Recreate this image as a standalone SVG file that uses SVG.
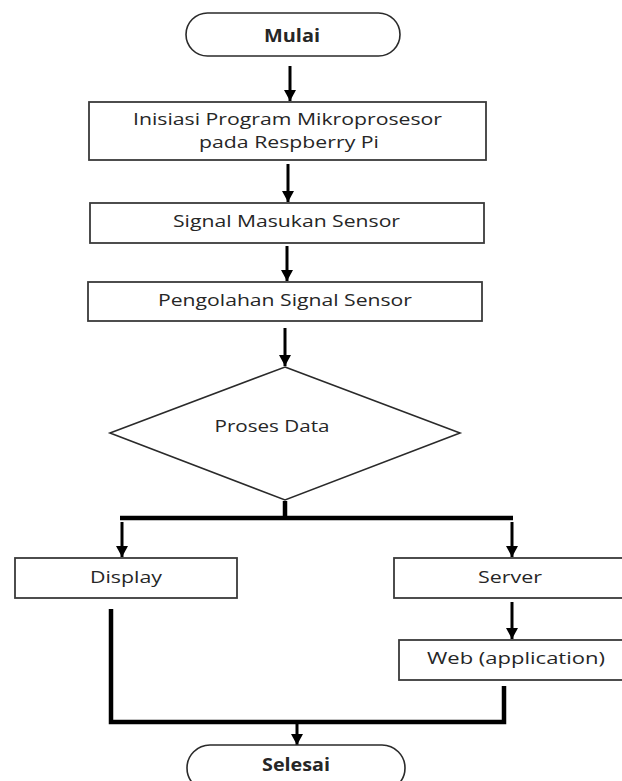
<svg xmlns="http://www.w3.org/2000/svg" width="622" height="781" viewBox="0 0 622 781">
<style>
.box{fill:#fff;stroke:#3a3a3a;stroke-width:1.8}
.term{fill:#fff;stroke:#2a2a2a;stroke-width:1.6}
.t{font-family:"Open Sans","Liberation Sans",sans-serif;font-size:17px;fill:#262626;text-anchor:middle}
.b{font-weight:bold}
.ar{stroke:#000;stroke-width:3;fill:none;marker-end:url(#ah)}
.ln{stroke:#000;stroke-width:4.5;fill:none;stroke-linecap:square}
</style>
<defs>
<marker id="ah" viewBox="0 0 11 12" refX="11" refY="6" markerWidth="11" markerHeight="12" markerUnits="userSpaceOnUse" orient="auto">
<path d="M0,0 L11,6 L0,12 z" fill="#000"/>
</marker>
</defs>
<g id="connectors">
<line class="ar" x1="290" y1="66" x2="290" y2="101"/>
<line class="ar" x1="288" y1="164" x2="288" y2="202"/>
<line class="ar" x1="287" y1="246" x2="287" y2="281"/>
<line class="ar" x1="285" y1="328" x2="285" y2="366"/>
<line class="ln" x1="285" y1="501" x2="285" y2="518" style="stroke-linecap:butt"/>
<line class="ln" x1="120" y1="518" x2="513" y2="518" style="stroke-linecap:butt"/>
<line class="ar" x1="122" y1="522" x2="122" y2="557"/>
<line class="ar" x1="512" y1="522" x2="512" y2="557"/>
<line class="ar" x1="512" y1="602" x2="512" y2="639"/>
<polyline class="ln" points="111,609 111,722 504,722 504,686" style="stroke-linecap:butt;stroke-linejoin:miter"/>
<line class="ar" x1="297" y1="724" x2="297" y2="745"/>
</g>
<g id="mulai">
<rect class="term" x="186" y="13" width="214" height="43" rx="21.5"/>
<text class="t b" x="292" y="42" textLength="56" lengthAdjust="spacingAndGlyphs">Mulai</text>
</g>
<g id="inisiasi">
<rect class="box" x="89" y="102" width="397" height="58"/>
<text class="t" x="287.5" y="125" textLength="309" lengthAdjust="spacingAndGlyphs">Inisiasi Program Mikroprosesor</text>
<text class="t" x="289" y="148" textLength="180" lengthAdjust="spacingAndGlyphs">pada Respberry Pi</text>
</g>
<g id="signal">
<rect class="box" x="90" y="203" width="394" height="40"/>
<text class="t" x="286.5" y="227" textLength="227" lengthAdjust="spacingAndGlyphs">Signal Masukan Sensor</text>
</g>
<g id="pengolahan">
<rect class="box" x="88" y="282" width="394" height="39"/>
<text class="t" x="285" y="306" textLength="254" lengthAdjust="spacingAndGlyphs">Pengolahan Signal Sensor</text>
</g>
<g id="proses">
<polygon class="term" points="285,367 460,433 285,500 110,433"/>
<text class="t" x="272" y="432" textLength="115" lengthAdjust="spacingAndGlyphs">Proses Data</text>
</g>
<g id="display">
<rect class="box" x="15" y="558" width="222" height="40"/>
<text class="t" x="126" y="583" textLength="72" lengthAdjust="spacingAndGlyphs">Display</text>
</g>
<g id="server">
<rect class="box" x="394" y="558" width="232" height="40"/>
<text class="t" x="510" y="583" textLength="64" lengthAdjust="spacingAndGlyphs">Server</text>
</g>
<g id="web">
<rect class="box" x="399" y="640" width="234" height="40"/>
<text class="t" x="516" y="664" textLength="178" lengthAdjust="spacingAndGlyphs">Web (application)</text>
</g>
<g id="selesai">
<rect class="term" x="187" y="745" width="218" height="46" rx="23"/>
<text class="t b" x="296" y="771" textLength="68" lengthAdjust="spacingAndGlyphs">Selesai</text>
</g>
</svg>
